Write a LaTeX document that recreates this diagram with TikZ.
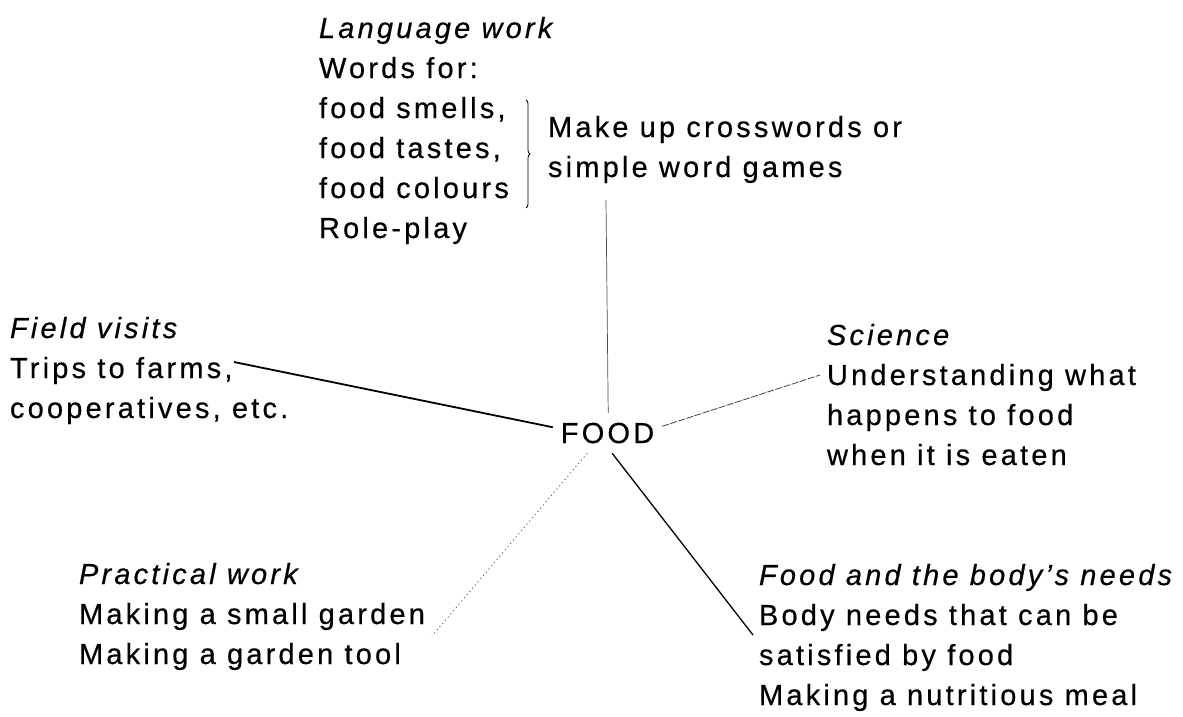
\documentclass[tikz,border=0pt]{standalone}
\usepackage{fontspec}
\setmainfont[LetterSpace=11, FakeBold=0.5]{Liberation Sans}
\usetikzlibrary{decorations.pathreplacing}
\begin{document}
\begin{tikzpicture}[x=1pt,y=-1pt,
  block/.style={anchor=base west, align=left, inner sep=0pt, outer sep=0pt,
    font=\fontsize{29}{40}\selectfont},
  hub/.style={inner xsep=8pt, inner ysep=10pt, outer sep=0pt,
    font=\fontsize{29}{40}\selectfont},
  heavy/.style={line width=1.8pt, black},
  medium/.style={line width=1.3pt, black},
  faint/.style={line width=0.7pt, black!70},
  dashy/.style={line width=0.8pt, black!75, dash pattern=on 7pt off 1.5pt},
  dotty/.style={line width=0.9pt, black!60, dash pattern=on 1.2pt off 3pt},
  bracestyle/.style={line width=0.8pt, decorate, decoration={brace, amplitude=4pt}}]
\useasboundingbox (0,0) rectangle (1183,717);

\node[hub, anchor=base] (food) at (607.5,443) {FOOD};

% base anchor = baseline of the last line
\node[block] (lang) at (319,238) {\textit{Language work}\\Words for:\\food smells,\\food tastes,\\food colours\\Role-play};
\node[block] (make) at (548,177) {Make up crosswords or\\simple word games};
\node[block] (field) at (10,418) {\textit{Field visits}\\Trips to farms,\\cooperatives, etc.};
\node[block] (sci) at (827,465) {\textit{Science}\\Understanding what\\happens to food\\when it is eaten};
\node[block] (prac) at (79,664) {\textit{Practical work}\\Making a small garden\\Making a garden tool};
\node[block] (body) at (759,705) {\textit{Food and the body's needs}\\Body needs that can be\\satisfied by food\\Making a nutritious meal};

\coordinate (bracetop) at (526,100);
\coordinate (bracebot) at (526,208);
\draw[bracestyle] (bracetop) -- (bracebot);

\coordinate (lwend) at (606,200);
\coordinate (fvend) at (234,362);
\coordinate (scend) at (820,375);
\coordinate (pwend) at (432,636);
\coordinate (bnend) at (753,635);

\draw[faint] (lwend) -- (food.88);
\draw[heavy] (fvend) -- (food.174);
\draw[dashy] (food.7) -- (scend);
\draw[dotty] (food.225) -- (pwend);
\draw[medium] (food.283) -- (bnend);
\end{tikzpicture}
\end{document}
